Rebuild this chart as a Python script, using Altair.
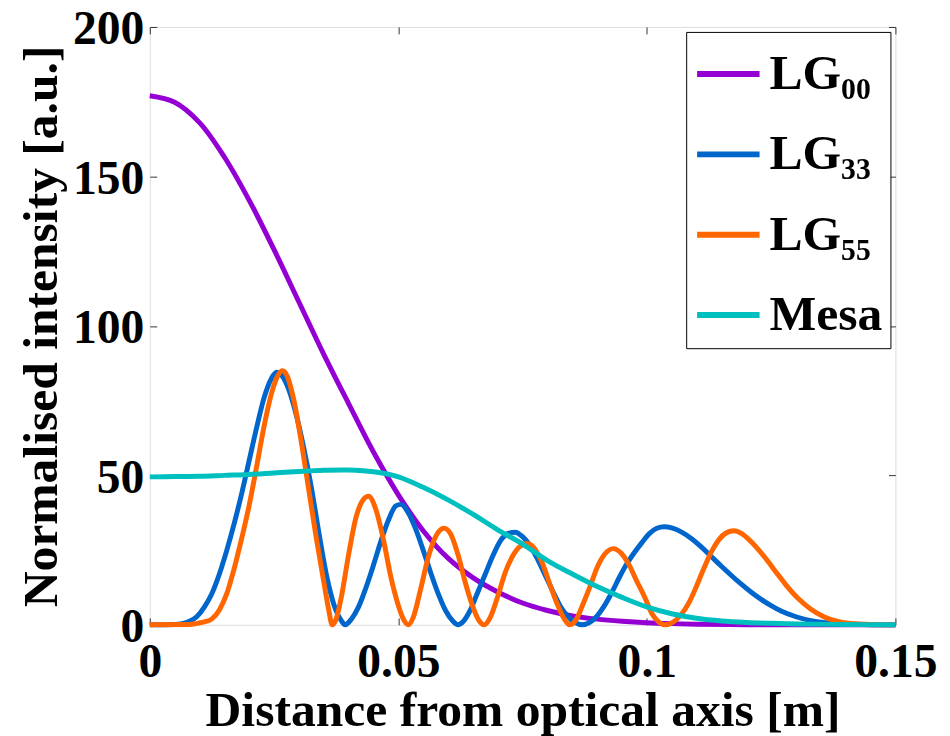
import altair as alt
import pandas as pd

# ---- data ----
series_names = ["LG₀₀", "LG₃₃", "LG₅₅", "Mesa"]
series_colors = ["#9400D3", "#0066CC", "#FF6600", "#00BFBF"]

lg00_x = [0, .005, .01, .015, .02, .025, .03, .035, .04, .045, .05, .055, .06, .065,
          .07, .075, .08, .085, .09, .095, .1, .105, .11, .12, .13, .14, .15]
lg00_y = [177, 174.8, 168, 156.5, 142, 125.5, 108, 90.5, 74, 57.8, 43.5, 31.5, 22.3, 15.8,
          11, 7.3, 4.8, 3, 1.9, 1.2, 0.7, 0.4, 0.2, 0.05, 0, 0, 0]

lg33_x = [0, .005, .0065, .008, .0095, .011, .0125, .014, .0155, .017, .0185, .02, .0215,
          .023, .0245, .0255, .0265, .028, .0295, .031, .0325, .034, .0355, .037, .0385,
          .0393, .0405, .042, .0435, .045, .0465, .048, .0495, .0505, .052, .0535, .055,
          .0565, .058, .0595, .061, .062, .063, .0645, .066, .0675, .069, .0705, .072,
          .0735, .075, .0765, .078, .0795, .081, .0825, .084, .0855, .087, .0885, .09,
          .0915, .093, .0945, .096, .0975, .099, .1005, .102, .1035, .105, .107, .109,
          .111, .113, .115, .117, .119, .121, .123, .125, .127, .13, .133, .136, .14,
          .145, .15]
lg33_y = [0, 0.1, 0.4, 1.2, 2.8, 6, 10.5, 17, 25, 34, 44, 55, 66,
          76, 82.5, 84.5, 83.5, 78.5, 70, 59, 46, 31, 17, 7, 1.5,
          0, 1.8, 6, 12.5, 20, 28, 35, 39.8, 40.3, 37.5, 32, 25,
          17.5, 10.5, 4.8, 1.2, 0, 1, 5, 11, 17, 23, 28, 30.5,
          31, 29.5, 26.5, 22, 16.8, 11.5, 6.5, 3, 0.8, 0, 0.8, 3,
          6.5, 11, 16, 20.5, 24.2, 27.5, 30.5, 32.3, 32.8, 32.4, 31, 28.8,
          26, 22.8, 19.6, 16.5, 13.6, 10.9, 8.5, 6.4, 4.6, 2.7, 1.4, 0.7, 0.25,
          0.05, 0]

lg55_x = [0, .008, .0095, .011, .0125, .014, .0155, .017, .0185, .02, .0215, .023, .0245,
          .0258, .0267, .0277, .029, .0305, .032, .0335, .035, .036, .0367, .0375, .0385,
          .04, .0415, .043, .044, .0455, .047, .0485, .05, .051, .052, .053, .0545, .056,
          .0575, .0592, .0605, .062, .0635, .065, .0662, .0673, .0685, .07, .0715, .073,
          .0745, .076, .0775, .079, .0805, .082, .0833, .0845, .0858, .087, .0885, .09,
          .0915, .0932, .0948, .0965, .098, .0995, .101, .1025, .1038, .1052, .1068,
          .1085, .11, .1115, .113, .1145, .116, .1175, .119, .1205, .122, .124, .126,
          .128, .1305, .133, .1355, .138, .141, .145, .15]
lg55_y = [0, 0.1, 0.5, 1, 2, 5, 10.5, 19, 29, 40, 53, 66.5, 77.5,
          83.5, 85, 83, 75, 61, 45, 29, 14.5, 5, 0, 2, 9,
          23.5, 36, 42, 43, 38.5, 28.5, 16, 6.5, 2, 0, 2.5, 12, 22.5,
          29.5, 32.3, 30.5, 23.5, 14, 6, 1.5, 0, 2.5, 9.5, 17.5, 23,
          26.3, 27.2, 25.3, 20.5, 13.5, 6.8, 2.2, 0, 1.8, 6.3, 12.5, 19.2,
          23.6, 25.5, 24, 19.8, 14.5, 9.5, 3.8, 0.8, 0, 0.8, 3.2,
          7.5, 13, 19, 24.5, 28.5, 30.8, 31.5, 30.6, 28.6, 26, 22, 17.6,
          13.3, 8.7, 5.2, 2.8, 1.3, 0.45, 0.1, 0]

mesa_x = [0, .005, .01, .015, .02, .025, .03, .035, .04, .045, .05, .055, .06, .065,
          .07, .075, .08, .085, .09, .095, .1, .105, .11, .115, .12, .125, .13, .14, .15]
mesa_y = [49.5, 49.6, 49.7, 50, 50.3, 50.8, 51.3, 51.7, 51.8, 51.2, 49.5, 46, 41.8, 37,
          31.8, 27, 21.5, 17, 12.8, 9.2, 6, 3.7, 2.2, 1.3, 0.8, 0.5, 0.3, 0.1, 0.05]

x_ticks = [0, 0.05, 0.1, 0.15]
y_ticks = [0, 50, 100, 150, 200]

rows = []
for name, xs, ys in zip(series_names,
                        [lg00_x, lg33_x, lg55_x, mesa_x],
                        [lg00_y, lg33_y, lg55_y, mesa_y]):
    for i, (a, b) in enumerate(zip(xs, ys)):
        rows.append({"series": name, "x": a, "y": b, "order": i})
df = pd.DataFrame(rows)

FONT = "Liberation Serif, Times New Roman, serif"
xscale = alt.Scale(domain=[0, 0.15], nice=False, zero=False)
yscale = alt.Scale(domain=[0, 200], nice=False)
color_scale = alt.Scale(domain=series_names, range=series_colors)

x_main = alt.X("x:Q", scale=xscale, axis=alt.Axis(
    orient="bottom", values=x_ticks, labelExpr="format(datum.value, '.2~f')",
    ticks=False, tickSize=0, labelFlush=False,
    domain=False, grid=False, labelPadding=14, labelFontSize=48,
    labelFont=FONT, labelFontWeight="bold", labelColor="black",
    title="Distance from optical axis [m]", titleFont=FONT, titleFontSize=50,
    titleFontWeight="bold", titleColor="black", titlePadding=0))
y_main = alt.Y("y:Q", scale=yscale, axis=alt.Axis(
    orient="left", values=y_ticks, format="d", ticks=False, tickSize=0,
    domain=False, grid=False, labelPadding=6, labelFontSize=48, labelOffset=3,
    labelFont=FONT, labelFontWeight="bold", labelColor="black",
    title="Normalised intensity [a.u.]", titleFont=FONT, titleFontSize=50,
    titleFontWeight="bold", titleColor="black", titlePadding=6))

legend = alt.Legend(
    title=None, orient="none", legendX=541, legendY=5,
    symbolType="stroke", symbolSize=3969, symbolStrokeWidth=6,
    labelFont=FONT, labelFontSize=50, labelFontWeight="bold",
    labelColor="black", labelOffset=7, rowPadding=21, padding=8,
    strokeColor="black", fillColor="white")


def series_layer(names, interp, with_axes):
    enc = dict(
        x=x_main if with_axes else alt.X("x:Q", scale=xscale, axis=None),
        y=y_main if with_axes else alt.Y("y:Q", scale=yscale, axis=None),
        color=alt.Color("series:N", scale=color_scale, legend=legend),
        order="order:Q",
    )
    return alt.Chart(df).transform_filter(
        alt.FieldOneOfPredicate(field="series", oneOf=names)
    ).mark_line(strokeWidth=5, interpolate=interp).encode(**enc)


def tick_layer(xo, yo):
    return alt.Chart(df).mark_point(opacity=0).encode(
        x=alt.X("x:Q", scale=xscale, axis=alt.Axis(
            orient=xo, values=x_ticks, offset=-7, tickSize=7, tickColor="#333333",
            tickWidth=1, labels=False, domain=False, grid=False, title="")),
        y=alt.Y("y:Q", scale=yscale, axis=alt.Axis(
            orient=yo, values=y_ticks, offset=-7, tickSize=7, tickColor="#333333",
            tickWidth=1, labels=False, domain=False, grid=False, title="")),
    )


chart = alt.layer(
    series_layer([series_names[0]], "catmull-rom", True),
    series_layer(series_names[1:3], "monotone", False),
    series_layer([series_names[3]], "catmull-rom", False),
    tick_layer("bottom", "left"),
    tick_layer("top", "right"),
).resolve_axis(
    x="independent", y="independent"
).properties(
    width=752, height=603,
    autosize=alt.AutoSizeParams(type="none"),
    padding={"left": 143, "top": 16, "right": 47, "bottom": 109},
).configure_view(stroke="black", strokeWidth=1.5).configure(background="white")

chart.save("out.html", embed_options={"renderer": "svg", "actions": False})
